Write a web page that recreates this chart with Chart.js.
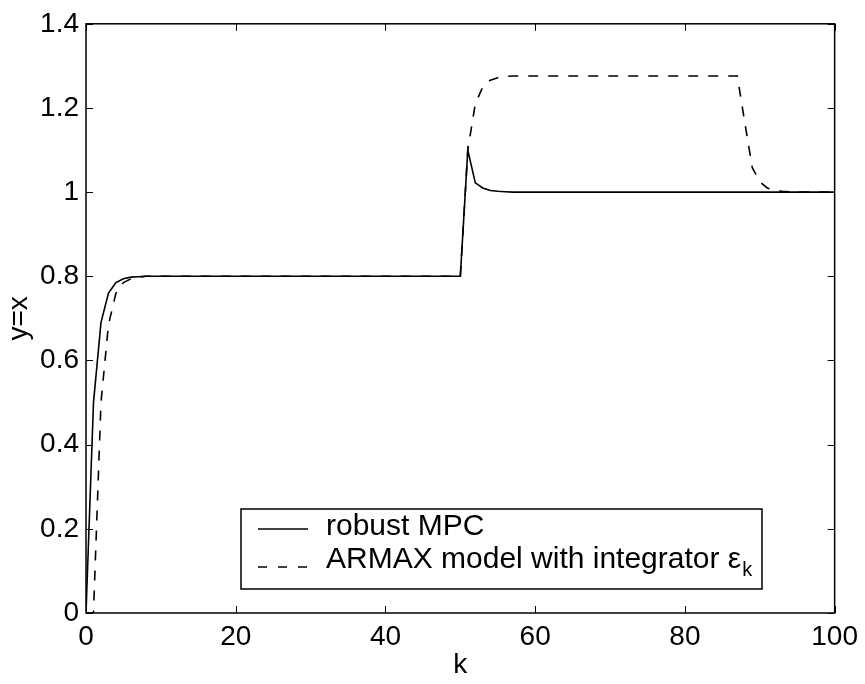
<!DOCTYPE html>
<html>
<head>
<meta charset="utf-8">
<script src="https://cdn.jsdelivr.net/npm/chart.js@4.4.1/dist/chart.umd.min.js"></script>
<style>
  html, body { margin: 0; padding: 0; background: #fff; }
  #wrap { width: 865px; height: 684px; }
</style>
</head>
<body>
<div id="wrap"><canvas id="stepChart" width="865" height="684"></canvas></div>
<script>
// sample index k
const kValues = [
  0, 1, 2, 3, 4, 5, 6, 7, 8, 9,
  10, 11, 12, 13, 14, 15, 16, 17, 18, 19,
  20, 21, 22, 23, 24, 25, 26, 27, 28, 29,
  30, 31, 32, 33, 34, 35, 36, 37, 38, 39,
  40, 41, 42, 43, 44, 45, 46, 47, 48, 49,
  50, 51, 52, 53, 54, 55, 56, 57, 58, 59,
  60, 61, 62, 63, 64, 65, 66, 67, 68, 69,
  70, 71, 72, 73, 74, 75, 76, 77, 78, 79,
  80, 81, 82, 83, 84, 85, 86, 87, 88, 89,
  90, 91, 92, 93, 94, 95, 96, 97, 98, 99,
  100
];

// solid line: robust MPC
const robustMPC = [
  0, 0.5, 0.69, 0.76, 0.785, 0.794, 0.798, 0.799, 0.8, 0.8,
  0.8, 0.8, 0.8, 0.8, 0.8, 0.8, 0.8, 0.8, 0.8, 0.8,
  0.8, 0.8, 0.8, 0.8, 0.8, 0.8, 0.8, 0.8, 0.8, 0.8,
  0.8, 0.8, 0.8, 0.8, 0.8, 0.8, 0.8, 0.8, 0.8, 0.8,
  0.8, 0.8, 0.8, 0.8, 0.8, 0.8, 0.8, 0.8, 0.8, 0.8,
  0.8, 1.1, 1.022, 1.01, 1.004, 1.002, 1.001, 1, 1, 1,
  1, 1, 1, 1, 1, 1, 1, 1, 1, 1,
  1, 1, 1, 1, 1, 1, 1, 1, 1, 1,
  1, 1, 1, 1, 1, 1, 1, 1, 1, 1,
  1, 1, 1, 1, 1, 1, 1, 1, 1, 1,
  1
];

// dashed line: ARMAX model with integrator
const armaxIntegrator = [
  0, 0, 0.5, 0.685, 0.76, 0.785, 0.794, 0.798, 0.8, 0.8,
  0.8, 0.8, 0.8, 0.8, 0.8, 0.8, 0.8, 0.8, 0.8, 0.8,
  0.8, 0.8, 0.8, 0.8, 0.8, 0.8, 0.8, 0.8, 0.8, 0.8,
  0.8, 0.8, 0.8, 0.8, 0.8, 0.8, 0.8, 0.8, 0.8, 0.8,
  0.8, 0.8, 0.8, 0.8, 0.8, 0.8, 0.8, 0.8, 0.8, 0.8,
  0.8, 1.1, 1.21, 1.25, 1.266, 1.272, 1.275, 1.276, 1.276, 1.276,
  1.276, 1.276, 1.276, 1.276, 1.276, 1.276, 1.276, 1.276, 1.276, 1.276,
  1.276, 1.276, 1.276, 1.276, 1.276, 1.276, 1.276, 1.276, 1.276, 1.276,
  1.276, 1.276, 1.276, 1.276, 1.276, 1.276, 1.276, 1.276, 1.165, 1.058,
  1.025, 1.01, 1.004, 1.002, 1.001, 1, 1, 1, 1, 1,
  1
];

const xTicks = [0, 20, 40, 60, 80, 100];
const yTicks = [0, 0.2, 0.4, 0.6, 0.8, 1, 1.2, 1.4];
const seriesNames = ['robust MPC', 'ARMAX model with integrator '];

const FONT = "'Liberation Sans', Arial, Helvetica, sans-serif";

function toPoints(ys) {
  return kValues.map((k, i) => ({ x: k, y: ys[i] }));
}

// MATLAB-like box with inward ticks on all sides
const boxTicks = {
  id: 'boxTicks',
  afterDatasetsDraw(chart) {
    const { ctx, chartArea: a, scales: { x, y } } = chart;
    const len = 7;
    ctx.save();
    ctx.strokeStyle = '#000';
    ctx.lineWidth = 1;
    ctx.beginPath();
    xTicks.forEach(v => {
      const px = Math.round(x.getPixelForValue(v)) + 0.5;
      ctx.moveTo(px, a.bottom); ctx.lineTo(px, a.bottom - len);
      ctx.moveTo(px, a.top); ctx.lineTo(px, a.top + len);
    });
    yTicks.forEach(v => {
      const py = Math.round(y.getPixelForValue(v)) + 0.5;
      ctx.moveTo(a.left, py); ctx.lineTo(a.left + len, py);
      ctx.moveTo(a.right, py); ctx.lineTo(a.right - len, py);
    });
    ctx.stroke();
    ctx.lineWidth = 1.5;
    ctx.strokeRect(a.left, a.top, a.right - a.left, a.bottom - a.top);
    ctx.restore();
  }
};

// boxed legend inside the axes, lower middle
const boxLegend = {
  id: 'boxLegend',
  afterDraw(chart) {
    const ctx = chart.ctx;
    const bx = 241, by = 509, bw = 521, bh = 80;
    ctx.save();
    ctx.fillStyle = '#fff';
    ctx.fillRect(bx, by, bw, bh);
    ctx.strokeStyle = '#000';
    ctx.lineWidth = 1.5;
    ctx.strokeRect(bx, by, bw, bh);

    ctx.lineWidth = 1.6;
    ctx.beginPath();
    ctx.moveTo(258, 529); ctx.lineTo(308, 529);
    ctx.stroke();
    ctx.setLineDash([9, 11]);
    ctx.beginPath();
    ctx.moveTo(258, 567); ctx.lineTo(308, 567);
    ctx.stroke();
    ctx.setLineDash([]);

    ctx.fillStyle = '#000';
    ctx.textBaseline = 'alphabetic';
    ctx.textAlign = 'left';
    ctx.font = '30px ' + FONT;
    ctx.fillText(seriesNames[0], 326, 535);
    ctx.fillText(seriesNames[1], 326, 568);
    const w = ctx.measureText(seriesNames[1]).width;
    ctx.fillText('\u03b5', 326 + w, 568);
    const we = ctx.measureText('\u03b5').width;
    ctx.font = '20px ' + FONT;
    ctx.fillText('k', 326 + w + we + 1, 576);
    ctx.restore();
  }
};

new Chart(document.getElementById('stepChart'), {
  type: 'line',
  data: {
    datasets: [
      {
        label: seriesNames[0],
        data: toPoints(robustMPC),
        borderColor: '#000',
        borderWidth: 1.6,
        pointRadius: 0,
        tension: 0,
        fill: false
      },
      {
        label: seriesNames[1],
        data: toPoints(armaxIntegrator),
        borderColor: '#000',
        borderWidth: 1.6,
        borderDash: [10, 10],
        pointRadius: 0,
        tension: 0,
        fill: false
      }
    ]
  },
  options: {
    responsive: false,
    animation: false,
    devicePixelRatio: 1,
    layout: { padding: { top: 23, right: 30, left: 0, bottom: 0 } },
    plugins: {
      legend: { display: false },
      tooltip: { enabled: false }
    },
    scales: {
      x: {
        type: 'linear',
        min: 0,
        max: 100,
        afterBuildTicks: s => { s.ticks = xTicks.map(v => ({ value: v })); },
        afterFit: s => { s.height = 71; },
        grid: { display: false, drawTicks: false },
        border: { display: false },
        ticks: { color: '#000', padding: 7, maxRotation: 0, font: { family: FONT, size: 28 } },
        title: { display: true, text: 'k', color: '#000', padding: { top: 0, bottom: 2 }, font: { family: FONT, size: 28 } }
      },
      y: {
        min: 0,
        max: 1.4,
        afterBuildTicks: s => { s.ticks = yTicks.map(v => ({ value: v })); },
        afterFit: s => { s.width = 86; },
        grid: { display: false, drawTicks: false },
        border: { display: false },
        ticks: {
          color: '#000',
          padding: 7,
          font: { family: FONT, size: 28 },
          callback: v => String(Math.round(v * 10) / 10)
        },
        title: { display: true, text: 'y=x', color: '#000', padding: { top: 2, bottom: 0 }, font: { family: FONT, size: 28 } }
      }
    }
  },
  plugins: [boxTicks, boxLegend]
});
</script>
</body>
</html>
